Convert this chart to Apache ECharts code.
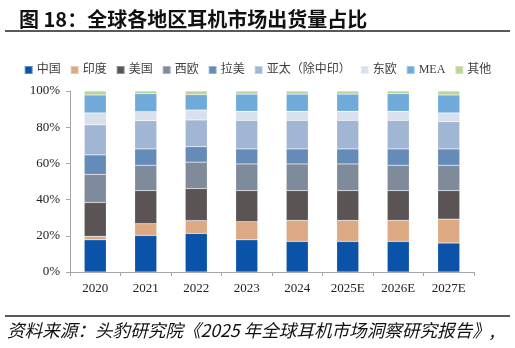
<!DOCTYPE html>
<html><head><meta charset="utf-8">
<script src="https://cdn.jsdelivr.net/npm/echarts@6/dist/echarts.min.js"></script>
<style>html,body{margin:0;padding:0;background:#fff}#c{width:515px;height:348px}</style>
</head><body><div id="c"></div>
<script>
const categories = ['2020','2021','2022','2023','2024','2025E','2026E','2027E'];
const seriesNames = ['中国','印度','美国','西欧','拉美','亚太（除中印）','东欧','MEA','其他'];
const china   = [17.8, 20.2, 21.3, 17.8, 16.9, 16.9, 16.9, 16.0];
const india   = [1.9, 6.5, 7.1, 10.0, 11.6, 11.6, 11.6, 13.2];
const usa     = [18.7, 18.3, 17.7, 17.2, 16.5, 16.5, 16.5, 15.8];
const wEurope = [15.6, 14.0, 14.6, 14.7, 14.7, 14.7, 14.0, 14.0];
const latAm   = [10.7, 9.0, 8.5, 8.3, 8.3, 8.3, 9.0, 9.0];
const apac    = [16.6, 15.6, 14.8, 15.8, 15.8, 15.8, 15.8, 15.1];
const eEurope = [6.6, 5.0, 5.5, 5.0, 5.0, 5.0, 5.0, 4.8];
const mea     = [9.9, 9.9, 8.5, 9.5, 9.5, 9.5, 9.7, 9.9];
const others  = [2.2, 1.5, 2.0, 1.7, 1.7, 1.7, 1.5, 2.2];
const yTicks = [0, 20, 40, 60, 80, 100];

const values = [china, india, usa, wEurope, latAm, apac, eEurope, mea, others];
const colors = ['#0B53A8','#DDA982','#5A5455','#7F8A9B','#658BB9','#A1B6D4','#D9E1EC','#6FAADA','#BBD49B'];

const chart = echarts.init(document.getElementById('c'));
const serif = '"Liberation Serif","Times New Roman",serif';
const cjk = '"Noto Sans CJK SC","Noto Sans",sans-serif';
chart.setOption({
  animation: false,
  color: colors,
  title: {
    text: '图 18：全球各地区耳机市场出货量占比',
    left: 14, top: 4,
    textStyle: { fontSize: 20, fontWeight: 'bold', color: '#111', fontFamily: cjk }
  },
  legend: {
    top: 59, left: 'center',
    icon: 'rect', itemWidth: 8, itemHeight: 8, itemGap: 9,
    textStyle: { fontSize: 12, color: '#404040', fontFamily: serif + ',' + cjk, padding: [0,0,0,-1] },
    data: seriesNames
  },
  grid: { left: 70, right: 41, top: 91, bottom: 76 },
  xAxis: {
    type: 'category', data: categories, boundaryGap: true,
    axisLine: { lineStyle: { color: '#A6A6A6', width: 1 } },
    axisTick: { show: true, alignWithLabel: false, length: 4, lineStyle: { color: '#A6A6A6' } },
    axisLabel: { fontSize: 13, color: '#222', fontFamily: serif, margin: 10 }
  },
  yAxis: {
    type: 'value', min: yTicks[0], max: yTicks[yTicks.length-1], interval: 20,
    axisLine: { show: true, lineStyle: { color: '#A6A6A6' } },
    axisTick: { show: true, length: 4, lineStyle: { color: '#A6A6A6' } },
    splitLine: { show: false },
    axisLabel: { fontSize: 13, color: '#222', fontFamily: serif, margin: 10, formatter: '{value}%' }
  },
  series: seriesNames.map((n, i) => ({
    name: n, type: 'bar', stack: 'total', barWidth: 22,
    itemStyle: { color: colors[i], borderColor: 'rgba(255,255,255,0.35)', borderWidth: 0.5 },
    data: values[i]
  })),
  graphic: [
    { type: 'line', shape: { x1: 5, y1: 31, x2: 510, y2: 31 }, style: { stroke: '#222', lineWidth: 1.5 } },
    { type: 'line', shape: { x1: 5, y1: 316, x2: 510, y2: 316 }, style: { stroke: '#222', lineWidth: 1.5 } },
    { type: 'text', left: 7, top: 322, style: { text: '资料来源：头豹研究院《2025 年全球耳机市场洞察研究报告》,', fill: '#111', font: 'italic 17.6px ' + cjk } }
  ]
});
</script></body></html>
